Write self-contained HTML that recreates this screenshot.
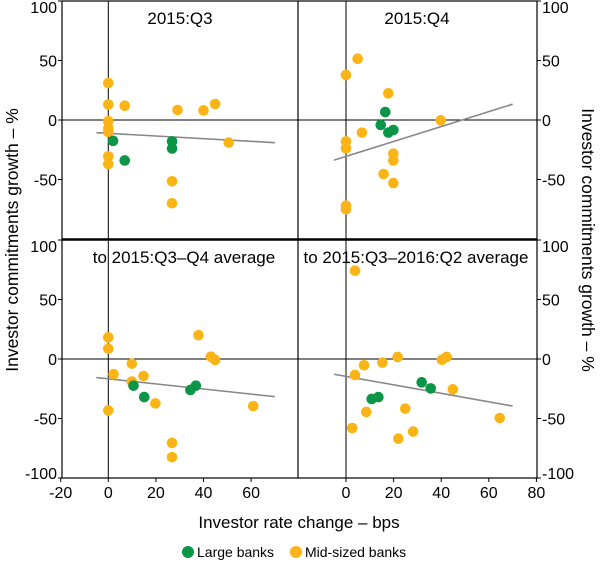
<!DOCTYPE html>
<html><head><meta charset="utf-8"><style>
body{margin:0;background:#fff;width:600px;height:562px;overflow:hidden}
svg{display:block;font-family:"Liberation Sans",Arial,sans-serif}
</style></head><body>
<svg id="c" width="600" height="562"></svg>
<script>
const panelTitles=["2015:Q3","2015:Q4","to 2015:Q3\u2013Q4 average","to 2015:Q3\u20132016:Q2 average"];
const largeX=[[2,6.9,26.8,26.8],[16.5,14.6,17.8,19.9],[10.6,15.1,34.5,36.8],[10.8,13.6,31.8,35.6]];
const largeY=[[-17.5,-34,-18,-24],[6.7,-4.2,-10.6,-8.4],[-22.4,-32,-26,-22.4],[-33.6,-32,-19.6,-24.7]];
const midX=[[0,0,6.9,29.1,40,44.9,0,0,0,50.6,0,0,26.8,26.8],
 [4.9,0,17.8,39.8,6.7,0,0,19.9,19.9,15.8,19.9,0,0],
 [0,0,2.2,9.9,9.9,14.8,19.8,0,26.8,26.8,37.9,43.1,44.9,60.9],
 [3.8,3.8,7.6,15.3,21.7,40.3,42.3,44.9,8.5,24.9,2.6,22,28.2,64.6]];
const midY=[[31,13,12,8.4,8,13.4,-1,-7,-10,-19,-30.5,-37,-51.5,-70],
 [51.5,37.8,22.4,-0.3,-10.6,-18,-23.8,-28.3,-34,-45.4,-53,-72,-75],
 [18.2,8.7,-12.8,-3.9,-19,-14.3,-37.3,-43.2,-70.5,-82.5,20,2,-0.8,-39.6],
 [74.2,-13.4,-5.3,-3,1.7,-0.6,1.7,-25.5,-44.5,-41.7,-58,-67,-61,-49.6]];
const trendSlope=[-0.112,0.627,-0.213,-0.356];
const trendIntercept=[-11.2,-30.6,-16.7,-14.6];
const trendRange=[-5,70];
const xTicks=[-20,0,20,40,60,80];
const yTicks=[100,50,0,-50,-100];

const NS="http://www.w3.org/2000/svg",svg=document.getElementById('c');
function mk(t,a,p){const e=document.createElementNS(NS,t);for(const k in a)e.setAttribute(k,a[k]);(p||svg).appendChild(e);return e;}
const pxU=2.38,pyU=1.19;
const panels=[{x0:108.3,y0:120},{x0:346,y0:120},{x0:108.3,y0:359},{x0:346,y0:359}];
const bounds=[[62,1,298,239],[298,1,537,239],[62,240,298,478],[298,240,537,478]];
const titleX=[180,417,184,416];
function sx(p,v){return panels[p].x0+v*pxU;}
function sy(p,v){return panels[p].y0-v*pyU;}
for(let p=0;p<4;p++){
  const g=mk('g',{});
  
  
  const b=bounds[p];
  mk('line',{x1:sx(p,0),x2:sx(p,0),y1:b[1],y2:b[3],stroke:'#000','stroke-width':1},g);
  mk('line',{x1:b[0],x2:b[2],y1:sy(p,0),y2:sy(p,0),stroke:'#000','stroke-width':1},g);
  const t=mk('text',{x:titleX[p],y:b[1]+23,'text-anchor':'middle','font-size':17,fill:'#000'},g);
  t.textContent=panelTitles[p];
  
  
  const ln=mk('line',{x1:sx(p,trendRange[0]),y1:sy(p,trendIntercept[p]+trendSlope[p]*trendRange[0]),x2:sx(p,trendRange[1]),y2:sy(p,trendIntercept[p]+trendSlope[p]*trendRange[1]),stroke:'#888','stroke-width':1.6},g);
  
  
  for(let i=0;i<midX[p].length;i++){
    const c=mk('circle',{cx:sx(p,midX[p][i]),cy:sy(p,midY[p][i]),r:5.3,fill:'#FBB416'},g);
    
    
  }
  for(let i=0;i<largeX[p].length;i++){
    const c=mk('circle',{cx:sx(p,largeX[p][i]),cy:sy(p,largeY[p][i]),r:5.3,fill:'#0A9547'},g);
    
    
  }
}
mk('rect',{x:62,y:1,width:475,height:477,fill:'none',stroke:'#000','stroke-width':1.2});
mk('line',{x1:298,x2:298,y1:1,y2:478,stroke:'#000','stroke-width':1.2});
mk('line',{x1:62,x2:537,y1:239.5,y2:239.5,stroke:'#000','stroke-width':2.5});
for(let r=0;r<2;r++){const p=r*2;
  yTicks.forEach(v=>{
    if(r==0&&v==-100)return;
    const y=sy(p,v);
    mk('line',{x1:58,x2:62,y1:y,y2:y,stroke:'#000'});
    mk('line',{x1:537,x2:541,y1:y,y2:y,stroke:'#000'});
    const ty=(v==100)?y+12:(v==-100?y+1:y+6);
    const a=mk('text',{x:57,y:ty,'text-anchor':'end','font-size':16});a.textContent=v;
    
    
    const b=mk('text',{x:542,y:ty,'font-size':16});b.textContent=v;
    
    
  });
}
for(let p=2;p<4;p++){
  xTicks.forEach(v=>{
    if(p==3&&v==-20)return;
    if(p==2&&v==80)return;
    const x=sx(p,v);
    mk('line',{x1:x,x2:x,y1:478,y2:482,stroke:'#000'});
    const t=mk('text',{x:x,y:498,'text-anchor':'middle','font-size':16});t.textContent=v;
    
    
  });
}
</script>
<div style="position:absolute;left:0;top:0">
<svg width="600" height="562" style="position:absolute;left:0;top:0">
<text x="0" y="0" transform="translate(18,240) rotate(-90)" text-anchor="middle" font-size="17.5">Investor commitments growth – %</text>
<text x="0" y="0" transform="translate(582,240) rotate(90)" text-anchor="middle" font-size="17.5">Investor commitments growth – %</text>
<text x="299" y="528" text-anchor="middle" font-size="17">Investor rate change – bps</text>
<g>
<circle cx="188" cy="552" r="6" fill="#0A9547"/>
<text x="197" y="557" font-size="14">Large banks</text>
<circle cx="296" cy="552" r="6" fill="#FBB416"/>
<text x="305" y="557" font-size="14">Mid-sized banks</text>
</g>
</svg></div>
</body></html>
